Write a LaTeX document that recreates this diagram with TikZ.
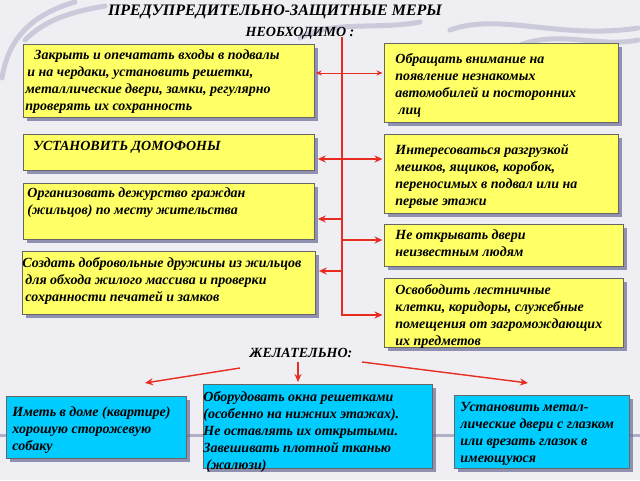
\documentclass[tikz,border=0pt]{standalone}
\usepackage{fontspec}
\setmainfont{Liberation Serif}
\usetikzlibrary{arrows.meta,shadows}

\definecolor{boxyellow}{RGB}{255,255,102}
\definecolor{boxcyan}{RGB}{0,204,255}
\definecolor{arrowred}{RGB}{232,44,34}
\definecolor{shadowc}{RGB}{105,105,150}
\definecolor{bgc}{RGB}{238,238,243}
\definecolor{strokec}{RGB}{160,160,190}

\newcommand{\cardfont}{\fontsize{14}{17}\selectfont\bfseries\itshape}
% width, height, left pad, top pad, text
\newcommand{\cardtxt}[5]{\parbox[c][#2][t]{#1}{\raggedright\leftskip=#3\vspace*{#4}\strut#5}}

\tikzset{
  card/.style={draw=black!60, line width=0.8pt, inner sep=0pt, anchor=north west,
    font=\cardfont,
    drop shadow={shadow xshift=4pt, shadow yshift=-4pt, fill=shadowc, opacity=0.7}},
  yel/.style={card, fill=boxyellow},
  cyn/.style={card, fill=boxcyan},
  head/.style={font=\bfseries\itshape\fontsize{16}{18}\selectfont, inner sep=0pt},
  subhead/.style={font=\bfseries\itshape\fontsize{14}{16}\selectfont, inner sep=0pt},
  link/.style={draw=arrowred, line width=1.4pt, -{Stealth[length=8pt,width=7pt]}},
  thinlink/.style={draw=arrowred, line width=0.8pt, {Stealth[length=6pt,width=5pt]}-{Stealth[length=6pt,width=5pt]}},
  brush/.style={draw=strokec, line width=5pt, line cap=round, opacity=0.45}
}

\begin{document}
\begin{tikzpicture}[x=1pt,y=-1pt]
  \useasboundingbox (0,0) rectangle (640,480);
  \fill[bgc] (0,0) rectangle (640,480);
  % background strokes
  \draw[brush] (2,78) .. controls (8,40) and (30,15) .. (75,2);
  \draw[brush] (25,40) .. controls (45,20) and (70,12) .. (105,6);
  \draw[brush] (300,38) .. controls (330,20) and (380,30) .. (420,22);
  \draw[brush] (450,30) .. controls (500,12) and (560,40) .. (638,28);
  \draw[brush] (520,45) .. controls (560,30) and (600,48) .. (638,40);
  \draw[draw=strokec, line width=3pt, opacity=0.8] (0,435) -- (640,435);

  % titles
  \node[head] (title) at (275,12) {ПРЕДУПРЕДИТЕЛЬНО-ЗАЩИТНЫЕ МЕРЫ};
  \node[subhead] (need) at (300,33) {НЕОБХОДИМО :};

  % left column
  \node[yel] (L1) at (23,44) {\cardtxt{291pt}{73pt}{2pt}{3pt}{\hspace*{9pt}Закрыть и опечатать входы в подвалы\\
    \hspace*{2pt}и на чердаки, установить решетки,\\
    металлические двери, замки, регулярно\\
    проверять их сохранность}};
  \node[yel] (L2) at (23,134) {\cardtxt{291pt}{36pt}{10pt}{4pt}{УСТАНОВИТЬ ДОМОФОНЫ}};
  \node[yel] (L3) at (23,183) {\cardtxt{291pt}{56pt}{4pt}{2pt}{Организовать дежурство граждан\\
    (жильцов) по месту жительства}};
  \node[yel] (L4) at (22,251) {\cardtxt{293pt}{63pt}{0pt}{4pt}{Создать добровольные дружины из жильцов\\
    \hspace*{3pt}для обхода жилого массива и проверки\\
    \hspace*{3pt}сохранности печатей и замков}};

  % right column
  \node[yel] (R1) at (384,43) {\cardtxt{234pt}{79pt}{11pt}{8pt}{Обращать внимание на\\
    появление незнакомых\\
    автомобилей и посторонних\\
    \hspace*{3pt}лиц}};
  \node[yel] (R2) at (384,134) {\cardtxt{234pt}{79pt}{11pt}{8pt}{Интересоваться разгрузкой\\
    мешков, ящиков, коробок,\\
    переносимых в подвал или на\\
    первые этажи}};
  \node[yel] (R3) at (384,224) {\cardtxt{239pt}{42pt}{11pt}{3pt}{Не открывать двери\\
    неизвестным людям}};
  \node[yel] (R4) at (384,278) {\cardtxt{239pt}{69pt}{11pt}{4pt}{Освободить лестничные\\
    клетки, коридоры, служебные\\
    помещения от загромождающих\\
    их предметов}};

  % red spine
  \coordinate (top) at (342,37);
  \coordinate (bend) at (342,315);
  \coordinate (j1) at (342,73);
  \coordinate (j2) at (342,159);
  \coordinate (j3) at (342,219);
  \coordinate (j4) at (342,240);
  \coordinate (j5) at (342,271);
  \draw[link, shorten >=1.5pt] (top) -- (bend) -- (bend -| R4.west);
  \draw[thinlink, shorten <=1pt, shorten >=1.5pt] (j1 -| L1.east) -- (j1 -| R1.west);
  \draw[link, {Stealth[length=8pt,width=7pt]}-{Stealth[length=8pt,width=7pt]},
    shorten <=3pt, shorten >=1.5pt] (j2 -| L2.east) -- (j2 -| R2.west);
  \draw[link, shorten >=3pt] (j3) -- (j3 -| L3.east);
  \draw[link, shorten >=1.5pt] (j4) -- (j4 -| R3.west);
  \draw[link, shorten >=3pt] (j5) -- (j5 -| L4.east);

  % lower part
  \node[subhead] (wish) at (301,353) {ЖЕЛАТЕЛЬНО:};
  \node[cyn] (B1) at (6,396) {\cardtxt{180pt}{62pt}{6pt}{8pt}{Иметь в доме (квартире)\\
    хорошую сторожевую\\
    собаку}};
  \node[cyn] (B2) at (203,384) {\cardtxt{229pt}{84pt}{0pt}{5pt}{Оборудовать окна решетками\\
    (особенно на нижних этажах).\\
    Не оставлять их открытыми.\\
    Завешивать плотной тканью\\
    \hspace*{3pt}(жалюзи)}};
  \node[cyn] (B3) at (454,395) {\cardtxt{175pt}{73pt}{6pt}{4pt}{Установить метал-\\
    лические двери с глазком\\
    или врезать глазок в\\
    имеющуюся}};

  \coordinate (s1) at (240,368);
  \coordinate (e1) at (145,383);
  \coordinate (s2) at (298,362);
  \coordinate (s3) at (362,362);
  \coordinate (e3) at (528,383);
  \draw[link] (s1) -- (e1);
  \draw[link, shorten >=2pt] (s2) -- (s2 |- B2.north);
  \draw[link] (s3) -- (e3);
\end{tikzpicture}
\end{document}
